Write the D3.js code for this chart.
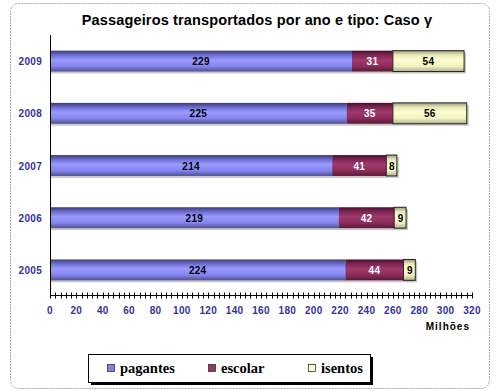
<!DOCTYPE html>
<html><head><meta charset="utf-8">
<script src="https://cdn.jsdelivr.net/npm/d3@7"></script>
<style>body{margin:0;background:#fff;}svg{display:block;font-family:"Liberation Sans",Arial,sans-serif;}</style>
</head><body>
<svg id="c" width="500" height="391"></svg>
<script>
const years = ["2009","2008","2007","2006","2005"];
const pagantes = [229,225,214,219,224];
const escolar = [31,35,41,42,44];
const isentos = [54,56,8,9,9];
const seriesNames = ["pagantes","escolar","isentos"];
const xTicks = [0,20,40,60,80,100,120,140,160,180,200,220,240,260,280,300,320];

const svg = d3.select("#c");
const defs = svg.append("defs");
const grads = [
  {id:"gP", stops:["#3c3c70","#6a6ad0","#9a9aff","#8484f0","#50508c"]},
  {id:"gE", stops:["#4a1030","#7a2450","#a03a6c","#8a2c58","#5a1838"]},
  {id:"gI", stops:["#9a9a78","#e6e6b8","#ffffd0","#f0f0c0","#b0b090"]}
];
grads.forEach(g=>{
  const lg = defs.append("linearGradient").attr("id",g.id).attr("x1",0).attr("y1",0).attr("x2",0).attr("y2",1);
  [0,0.2,0.45,0.75,1].forEach((o,i)=>lg.append("stop").attr("offset",o).attr("stop-color",g.stops[i]));
});
const fills = ["url(#gP)","url(#gE)","url(#gI)"];
const legendColors = ["#8080ee","#993366","#ffffcc"];
const labelColors = ["#000","#fff","#000"];

// frame
svg.append("rect").attr("x",10.5).attr("y",3.5).attr("width",479).attr("height",385).attr("rx",8)
  .attr("fill","none").attr("stroke","#aaa").attr("stroke-dasharray","2,1");

svg.append("text").attr("x",257).attr("y",25).attr("text-anchor","middle")
  .attr("font-size",14.5).attr("font-weight","bold").attr("letter-spacing",0.15)
  .text("Passageiros transportados por ano e tipo: Caso γ");

const x = d3.scaleLinear().domain([0,320]).range([50,472]);
const y = d3.scaleBand().domain(years).range([35,296]).paddingInner(0.6).paddingOuter(0.3);

const stackData = years.map((yr,i)=>({year:yr, pagantes:pagantes[i], escolar:escolar[i], isentos:isentos[i]}));
const stack = d3.stack().keys(seriesNames)(stackData);

// shadows
svg.append("g").selectAll("rect").data(stackData).join("rect")
  .attr("x",x(0)+1).attr("y",d=>y(d.year)+2)
  .attr("width",d=>x(d.pagantes+d.escolar+d.isentos)-x(0)+1)
  .attr("height",y.bandwidth()).attr("fill","#c8c8c8");

stack.forEach((s,si)=>{
  const g = svg.append("g");
  g.selectAll("rect").data(s).join("rect")
    .attr("x",d=>x(d[0])).attr("y",d=>y(d.data.year))
    .attr("width",d=>x(d[1])-x(d[0])).attr("height",y.bandwidth())
    .attr("fill",fills[si])
    .attr("stroke",si===2?"#222":"none").attr("stroke-width",1);
  g.selectAll("text").data(s).join("text")
    .attr("x",d=>(x(d[0])+x(d[1]))/2 + (si===2 && (d[1]-d[0])<15 ? 0.5 : 0))
    .attr("y",d=>y(d.data.year)+y.bandwidth()/2+4)
    .attr("text-anchor","middle").attr("font-size",10).attr("font-weight","bold").attr("letter-spacing",0.3)
    .attr("fill",labelColors[si]).text(d=>d[1]-d[0]);
});

// y axis
svg.append("line").attr("x1",50.5).attr("x2",50.5).attr("y1",35).attr("y2",296).attr("stroke","#000");
svg.append("g").selectAll("text").data(years).join("text")
  .attr("x",42).attr("y",d=>y(d)+y.bandwidth()/2+4).attr("text-anchor","end")
  .attr("font-size",10).attr("font-weight","bold").attr("letter-spacing",0.3).attr("fill","#333399").text(d=>d);

// x axis
const xa = svg.append("g").attr("transform","translate(0,295.5)");
xa.append("line").attr("x1",50).attr("x2",472).attr("stroke","#000");
xa.selectAll("line.t").data(d3.range(0,321,4)).join("line").attr("class","t")
  .attr("x1",d=>Math.round(x(d))+0.5).attr("x2",d=>Math.round(x(d))+0.5).attr("y1",-3).attr("y2",3).attr("stroke","#000");
xa.selectAll("text").data(xTicks).join("text")
  .attr("x",d=>x(d)).attr("y",18).attr("text-anchor","middle")
  .attr("font-size",10).attr("font-weight","bold").attr("letter-spacing",0.3).attr("fill","#333399").text(d=>d);
svg.append("text").attr("x",470).attr("y",330).attr("text-anchor","end")
  .attr("font-size",10).attr("font-weight","bold").attr("letter-spacing",1).text("Milhões");

// legend
const lg = svg.append("g");
lg.append("rect").attr("x",91).attr("y",357).attr("width",282).attr("height",28).attr("fill","#000");
lg.append("rect").attr("x",88.5).attr("y",354.5).attr("width",282).attr("height",28).attr("fill","#fff").attr("stroke","#000");
const lx = [107,208,308];
seriesNames.forEach((n,i)=>{
  lg.append("rect").attr("x",lx[i]+0.5).attr("y",364.5).attr("width",7).attr("height",7)
    .attr("fill",legendColors[i]).attr("stroke","#333").attr("stroke-width",0.8);
  lg.append("text").attr("x",lx[i]+13).attr("y",373).attr("font-family","'Liberation Serif','Times New Roman',serif")
    .attr("font-size",14.5).attr("font-weight","bold").text(n);
});
</script>
</body></html>
